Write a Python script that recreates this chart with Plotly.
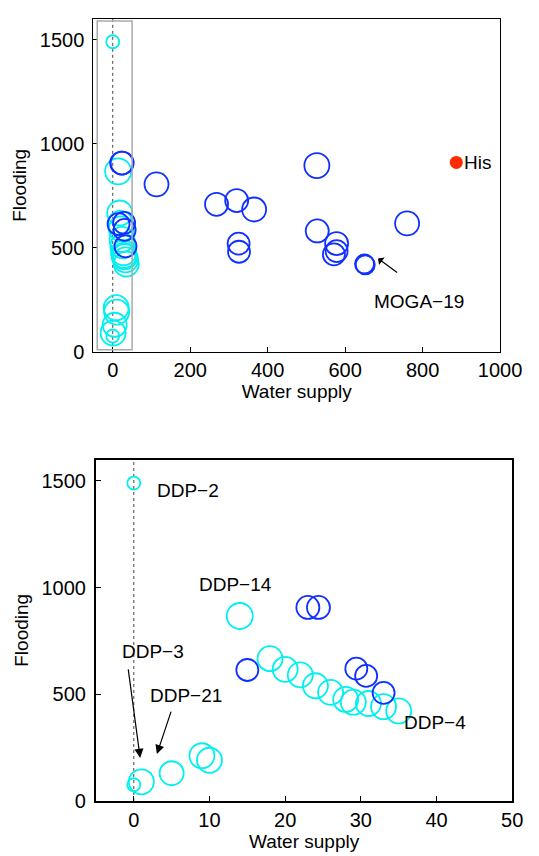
import plotly.graph_objects as go

# ---- data ----
ddp_x = [0, 0, 1, 5, 9, 10, 14, 18, 20, 22, 24, 26, 28, 29, 31, 33, 35]
ddp_y = [1490, 76, 90, 130, 212, 191, 867, 667, 617, 591, 540, 509, 476, 463, 457, 442, 422]
ddp_size = [13, 13, 25, 24, 25, 25, 26, 25, 25, 25, 25, 25, 25, 25, 25, 25, 25]

moga_x = [15, 23, 24.4, 29.4, 30.7, 33, 113, 268, 320, 365, 527, 325, 326, 528, 578, 578, 571, 650, 652, 760]
moga_y = [614, 907, 907, 620, 586, 507, 805, 709, 727, 684, 895, 520, 481, 581, 520, 484, 468, 422, 418, 617]
moga_size = [22, 23, 23, 22, 22, 22, 24, 23, 23, 24, 25, 22, 22, 23, 23, 22, 22, 19, 19, 24]

his_x = [887]
his_y = [910]

top_xticks = [0, 200, 400, 600, 800, 1000]
bot_xticks = [0, 10, 20, 30, 40, 50]
yticks = [0, 500, 1000, 1500]

CYAN = "#00F0F0"
BLUE = "#1030FF"
RED = "#FF2A00"
FONT = "Liberation Sans, Arial, sans-serif"

fig = go.Figure()

# bottom panel filter (zoom window)
bx = [(x, y, s) for x, y, s in zip(ddp_x, ddp_y, ddp_size) if x <= 50]
bm = [(x, y, s) for x, y, s in zip(moga_x, moga_y, moga_size) if x <= 50]

for xa, ya, d_pts, m_pts in [("x", "y", list(zip(ddp_x, ddp_y, ddp_size)), list(zip(moga_x, moga_y, moga_size))),
                             ("x2", "y2", bx, bm)]:
    # dotted line at x=0
    fig.add_trace(go.Scatter(x=[0, 0], y=[0, 1600], mode="lines", xaxis=xa, yaxis=ya,
                             line=dict(color="#444444", width=1, dash="dot"), showlegend=False, hoverinfo="skip"))
    fig.add_trace(go.Scatter(x=[p[0] for p in d_pts], y=[p[1] for p in d_pts], mode="markers",
                             xaxis=xa, yaxis=ya, showlegend=False,
                             marker=dict(symbol="circle-open", size=[p[2] for p in d_pts], color=CYAN, opacity=1,
                                         line=dict(width=1.8, color=CYAN))))
    fig.add_trace(go.Scatter(x=[p[0] for p in m_pts], y=[p[1] for p in m_pts], mode="markers",
                             xaxis=xa, yaxis=ya, showlegend=False,
                             marker=dict(symbol="circle-open", size=[p[2] for p in m_pts], color=BLUE, opacity=1,
                                         line=dict(width=1.8, color=BLUE))))

fig.add_trace(go.Scatter(x=his_x, y=his_y, mode="markers", xaxis="x", yaxis="y", showlegend=False,
                         marker=dict(symbol="circle", size=13, color=RED, opacity=1)))

# gray box in top panel
fig.add_shape(type="rect", xref="x", yref="y", x0=-40, x1=50, y0=10, y1=1590,
              line=dict(color="#AAAAAA", width=1.5))

ann_font = dict(family=FONT, size=19, color="black")
annotations = [
    dict(x=887, y=910, xref="x", yref="y", text="His", showarrow=False, xanchor="left", xshift=6, font=ann_font),
    dict(x=792, y=240, xref="x", yref="y", text="MOGA−19", showarrow=False, font=ann_font),
    dict(x=685, y=449, xref="x", yref="y", ax=738, ay=376, axref="x", ayref="y", text="",
         showarrow=True, arrowhead=1, arrowsize=1.3, arrowwidth=1.2, arrowcolor="black"),
    dict(x=7.2, y=1453, xref="x2", yref="y2", text="DDP−2", showarrow=False, font=ann_font),
    dict(x=13.4, y=1014, xref="x2", yref="y2", text="DDP−14", showarrow=False, font=ann_font),
    dict(x=2.6, y=701, xref="x2", yref="y2", text="DDP−3", showarrow=False, font=ann_font),
    dict(x=6.9, y=495, xref="x2", yref="y2", text="DDP−21", showarrow=False, font=ann_font),
    dict(x=35.5, y=370, xref="x2", yref="y2", text="DDP−4", showarrow=False, xanchor="left", font=ann_font),
    dict(x=0.84, y=202, xref="x2", yref="y2", ax=-0.76, ay=624, axref="x2", ayref="y2", text="",
         showarrow=True, arrowhead=2, arrowsize=1.5, arrowwidth=1.2, arrowcolor="black"),
    dict(x=3.05, y=220, xref="x2", yref="y2", ax=4.99, ay=426, axref="x2", ayref="y2", text="",
         showarrow=True, arrowhead=2, arrowsize=1.5, arrowwidth=1.2, arrowcolor="black"),
]

tickfont = dict(family=FONT, size=20, color="black")
titlefont = dict(family=FONT, size=19, color="black")

def xax(domain, rng, ticks, anchor, lw):
    return dict(domain=domain, range=rng, tickvals=ticks, ticks="inside", ticklen=5, tickcolor="black",
                showline=True, linecolor="black", linewidth=lw, mirror=True, showgrid=False, zeroline=False,
                tickfont=tickfont, anchor=anchor,
                title=dict(text="Water supply", font=titlefont, standoff=0))

def yax(domain, anchor, lw):
    return dict(domain=domain, range=[0, 1600], tickvals=yticks, ticks="inside", ticklen=5, tickcolor="black",
                showline=True, linecolor="black", linewidth=lw, mirror=True, showgrid=False, zeroline=False,
                tickfont=tickfont, anchor=anchor, ticklabelstandoff=4,
                title=dict(text="Flooding", font=titlefont, standoff=8))

W, H = 539, 856
fig.update_layout(
    width=W, height=H,
    margin=dict(l=0, r=0, t=0, b=0),
    paper_bgcolor="white", plot_bgcolor="white",
    font=dict(family=FONT, color="black"),
    xaxis=xax([89 / W, 513 / W], [-50, 1000], top_xticks, "y", 1),
    yaxis=yax([1 - 348.3 / H, 1 - 11 / H], "x", 1),
    xaxis2=xax([91.7 / W, 525.7 / W], [-5, 50], bot_xticks, "y2", 2),
    yaxis2=yax([1 - 803.3 / H, 1 - 457.5 / H], "x2", 2),
    annotations=annotations,
)

fig.write_html("out.html")
